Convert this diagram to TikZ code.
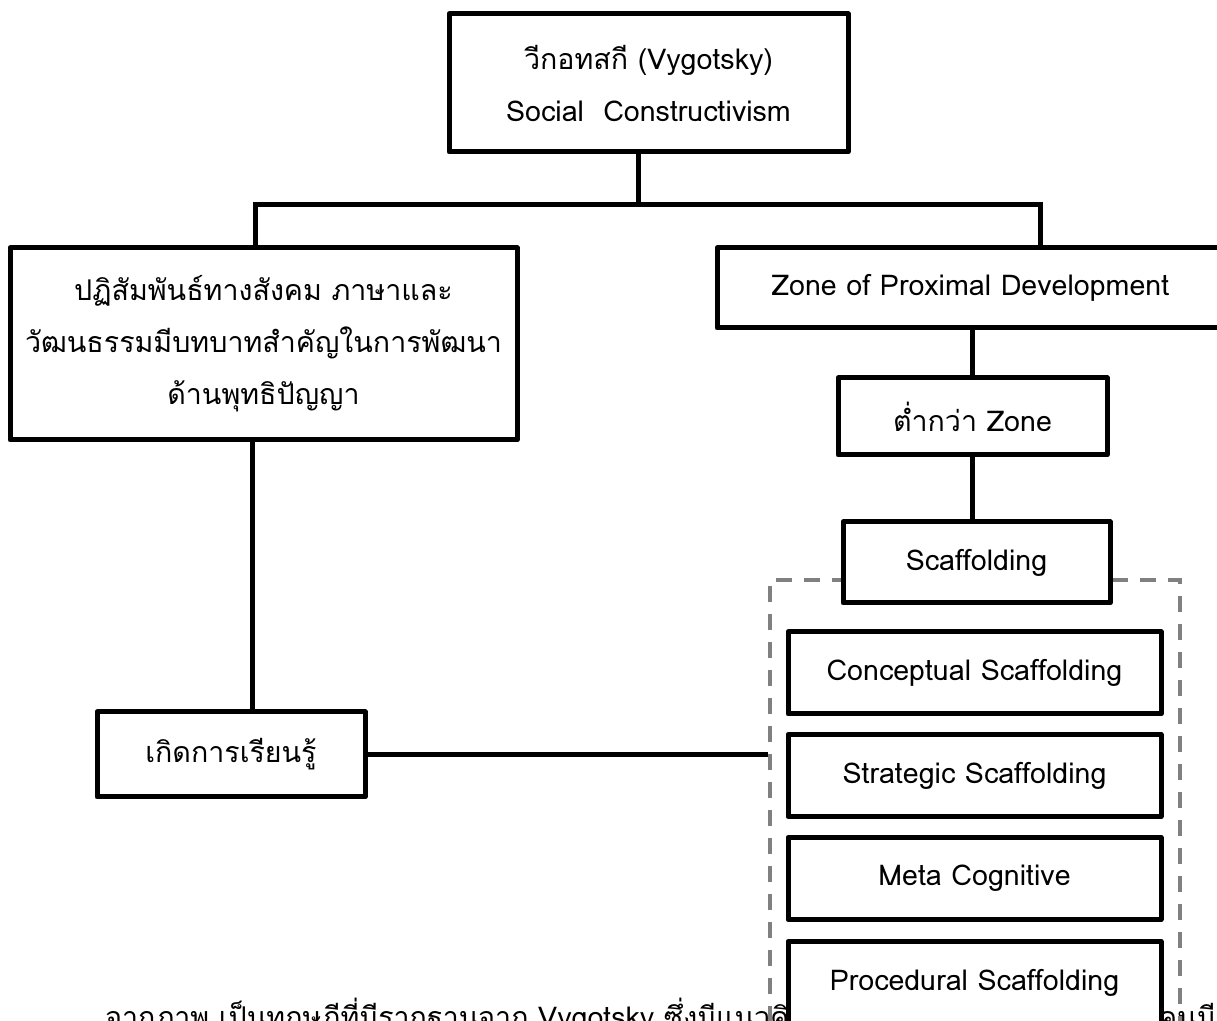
\documentclass[tikz,border=0pt]{standalone}
\usepackage{fontspec}
\setmainfont[Script=Thai]{Loma}
\usetikzlibrary{positioning}
\tikzset{
  box/.style={draw, line width=2.5pt, fill=white, align=center, inner sep=0pt,
    line join=round, font=\fontsize{14.3}{26}\selectfont},
  link/.style={line width=2.5pt},
  groupbox/.style={draw=gray, line width=1.8pt, dash pattern=on 8pt off 6pt},
}
\begin{document}
\begin{tikzpicture}[x=0.5pt,y=-0.5pt]
  \useasboundingbox (0,0) rectangle (1217,1021);
  \clip (0,0) rectangle (1217,1021);
  % Running text under the chart (cut off by the page)
  \node[anchor=base west, inner sep=0pt, font=\fontsize{14.3}{26}\selectfont] (para) at (105,1027)
    {จากภาพ เป็นทฤษฎีที่มีรากฐานจาก Vygotsky ซึ่งมีแนวคิด};
  \node[anchor=base east, inner sep=0pt, font=\fontsize{14.3}{26}\selectfont] (paraend) at (1216,1027) {คนมี};
  % Dashed frame round the scaffolding types
  \node[groupbox, minimum width=205pt, minimum height=245pt] (types) at (975,825) {};
  % Boxes
  \node[box, minimum width=199.5pt, minimum height=69pt] (vygotsky) at (648.5,83)
    {วีกอทสกี (Vygotsky)\\Social~~Constructivism};
  \node[box, minimum width=253.5pt, minimum height=96pt] (social) at (263.5,344)
    {ปฏิสัมพันธ์ทางสังคม ภาษาและ\\วัฒนธรรมมีบทบาทสำคัญในการพัฒนา\\ด้านพุทธิปัญญา};
  \node[box, minimum width=253.5pt, minimum height=40pt] (zpd) at (970.5,288)
    {Zone of Proximal Development};
  \node[box, minimum width=134.5pt, minimum height=38.5pt] (lower) at (972.5,416.5)
    {ต่ำกว่า Zone};
  \node[box, minimum width=133.5pt, minimum height=40.5pt] (scaffold) at (976.5,562.5)
    {Scaffolding};
  \node[box, minimum width=186.5pt, minimum height=41pt] (concept) at (974.5,673)
    {Conceptual Scaffolding};
  \node[box, minimum width=186.5pt, minimum height=41pt] (strategy) at (974.5,775.5)
    {Strategic Scaffolding};
  \node[box, minimum width=186.5pt, minimum height=41pt] (meta) at (974.5,878.5)
    {Meta Cognitive};
  \node[box, minimum width=186.5pt, minimum height=41pt] (proc) at (974.5,982.5)
    {Procedural Scaffolding};
  \node[box, minimum width=134pt, minimum height=42.5pt] (learn) at (231,754.5)
    {เกิดการเรียนรู้};
  % Connectors
  \coordinate (split) at (638,205);
  \coordinate (barL) at (255,205);
  \coordinate (barR) at (1040,205);
  \coordinate (down) at (252,0);
  \draw[link] (vygotsky.south -| split) -- (split);
  \draw[link] (barL |- social.north) -- (barL) -- (barR) -- (barR |- zpd.north);
  \draw[link] (lower.north) -- (lower.north |- zpd.south);
  \draw[link] (scaffold.north -| lower) -- (lower.south);
  \draw[link] (down |- social.south) -- (down |- learn.north);
  \draw[link] (learn.east) -- (learn.east -| types.west);
\end{tikzpicture}
\end{document}
